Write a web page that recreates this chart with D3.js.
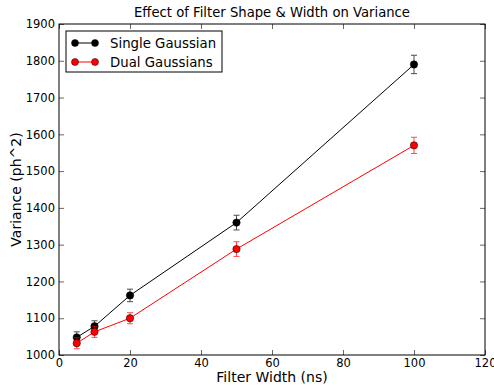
<!DOCTYPE html>
<html><head><meta charset="utf-8">
<script src="https://d3js.org/d3.v7.min.js"></script>
<style>body{margin:0;background:#fff}svg{display:block}text{font-family:"DejaVu Sans",sans-serif}</style>
</head><body><svg id="c" width="494" height="390"></svg>
<script>
const widths = [5, 10, 20, 50, 100];
const singleVals = [1048, 1078, 1162, 1360, 1790];
const singleErr = [15, 15, 17, 20, 25];
const dualVals = [1032, 1063, 1100, 1288, 1570];
const dualErr = [15, 15, 15, 20, 22];
const xTicks = [0, 20, 40, 60, 80, 100, 120];
const yTicks = [1000, 1100, 1200, 1300, 1400, 1500, 1600, 1700, 1800, 1900];
const seriesNames = ["Single Gaussian", "Dual Gaussians"];
const seriesColors = ["#000000", "#ff0000"];

const svg = d3.select("#c");
const L = 59, R = 485, T = 24, B = 355;
const x = d3.scaleLinear().domain([0, 120]).range([L, R]);
const y = d3.scaleLinear().domain([1000, 1900]).range([B, T]);

const series = [
  {name: seriesNames[0], color: seriesColors[0], vals: singleVals, err: singleErr},
  {name: seriesNames[1], color: seriesColors[1], vals: dualVals, err: dualErr}
];

series.forEach(s => {
  const pts = widths.map((w, i) => ({x: w, y: s.vals[i], e: s.err[i]}));
  svg.append("path").datum(pts)
    .attr("d", d3.line().x(d => x(d.x)).y(d => y(d.y)))
    .attr("fill", "none").attr("stroke", s.color).attr("stroke-width", 1);
  const eb = svg.append("g").attr("stroke", s.color).attr("stroke-width", 1).attr("opacity", 0.7);
  pts.forEach(d => {
    eb.append("line").attr("x1", x(d.x)).attr("x2", x(d.x)).attr("y1", y(d.y - d.e)).attr("y2", y(d.y + d.e));
    eb.append("line").attr("x1", x(d.x) - 3).attr("x2", x(d.x) + 3).attr("y1", y(d.y - d.e)).attr("y2", y(d.y - d.e));
    eb.append("line").attr("x1", x(d.x) - 3).attr("x2", x(d.x) + 3).attr("y1", y(d.y + d.e)).attr("y2", y(d.y + d.e));
  });
  svg.append("g").selectAll("circle").data(pts).join("circle")
    .attr("cx", d => x(d.x)).attr("cy", d => y(d.y)).attr("r", 3.7)
    .attr("fill", s.color).attr("stroke", "#000").attr("stroke-width", 0.5);
});

// axes with inward ticks
const ax = d3.axisBottom(x).tickValues(xTicks).tickSize(-5).tickPadding(4).tickFormat(d3.format("d"));
const ay = d3.axisLeft(y).tickValues(yTicks).tickSize(-5).tickPadding(4).tickFormat(d3.format("d"));
const gx = svg.append("g").attr("transform", `translate(0,${B})`).call(ax);
const gy = svg.append("g").attr("transform", `translate(${L},0)`).call(ay);
const gx2 = svg.append("g").attr("transform", `translate(0,${T})`).call(d3.axisTop(x).tickValues(xTicks).tickSize(-5).tickFormat(""));
const gy2 = svg.append("g").attr("transform", `translate(${R},0)`).call(d3.axisRight(y).tickValues(yTicks).tickSize(-5).tickFormat(""));
[gx, gy, gx2, gy2].forEach(g => {
  g.select(".domain").remove();
  g.selectAll(".tick line").attr("stroke", "#000").attr("stroke-width", 0.6);
  g.selectAll("text").attr("font-size", 11.5).attr("fill", "#000").style("font-family", "DejaVu Sans");
});
svg.append("rect").attr("x", L).attr("y", T).attr("width", R - L).attr("height", B - T)
  .attr("fill", "none").attr("stroke", "#000").attr("stroke-width", 1);

svg.append("text").attr("x", (L + R) / 2).attr("y", 17).attr("text-anchor", "middle")
  .attr("font-size", 13.2).text("Effect of Filter Shape & Width on Variance");
svg.append("text").attr("x", 272).attr("y", 382).attr("text-anchor", "middle")
  .attr("font-size", 14).text("Filter Width (ns)");
svg.append("text").attr("transform", `translate(21,${(T + B) / 2}) rotate(-90)`).attr("text-anchor", "middle")
  .attr("font-size", 14).text("Variance (ph^2)");

// legend
const lg = svg.append("g");
lg.append("rect").attr("x", 66).attr("y", 31).attr("width", 156).attr("height", 41)
  .attr("fill", "#fff").attr("stroke", "#000").attr("stroke-width", 1);
series.forEach((s, i) => {
  const yy = 43 + i * 19;
  lg.append("line").attr("x1", 75).attr("x2", 95).attr("y1", yy).attr("y2", yy).attr("stroke", s.color);
  [75, 95].forEach(cx => lg.append("circle").attr("cx", cx).attr("cy", yy).attr("r", 3.5)
    .attr("fill", s.color).attr("stroke", "#000").attr("stroke-width", 0.5));
  lg.append("text").attr("x", 110).attr("y", yy + 5).attr("font-size", 13.3).text(s.name);
});
</script></body></html>
